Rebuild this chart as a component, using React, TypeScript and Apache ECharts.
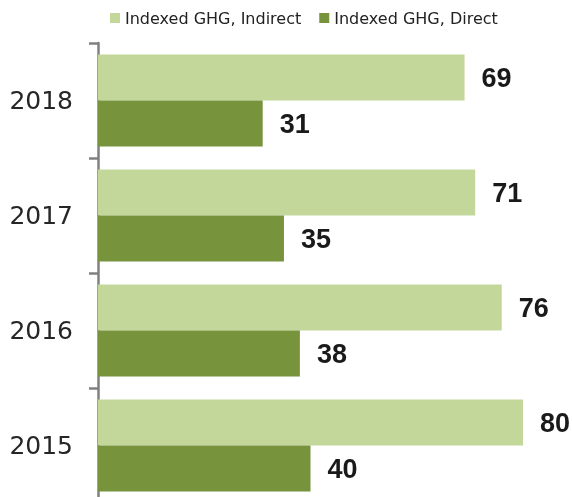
import React, { useEffect, useRef } from "react";
import * as echarts from "echarts";

const categories = ["2015", "2016", "2017", "2018"];
const indirectValues = [80, 76, 71, 69];
const directValues = [40, 38, 35, 31];
const seriesNames = ["Indexed GHG, Indirect", "Indexed GHG, Direct"];

export default function App() {
  const ref = useRef<HTMLDivElement>(null);
  useEffect(() => {
    if (!ref.current) return;
    const chart = echarts.init(ref.current, null, { renderer: "svg" });
    const label = {
      show: true,
      position: "right",
      distance: 17,
      color: "#1a1a1a",
      fontSize: 27,
      fontWeight: "bold",
      fontFamily: "Liberation Sans",
    };
    chart.setOption({
      animation: false,
      legend: {
        data: seriesNames,
        top: 5,
        left: 105,
        itemWidth: 10,
        itemHeight: 10,
        itemGap: 18,
        icon: "rect",
        textStyle: { fontSize: 16, color: "#222", fontFamily: "DejaVu Sans" },
      },
      grid: { left: 98, top: 43, width: 425, height: 460, containLabel: false },
      xAxis: {
        type: "value",
        min: 0,
        max: 80,
        show: false,
      },
      yAxis: {
        type: "category",
        data: categories,
        axisLine: { show: true, lineStyle: { color: "#808080", width: 2.5 } },
        axisTick: { show: true, length: 9, lineStyle: { color: "#808080", width: 2.5 } },
        axisLabel: { margin: 25, fontSize: 25, color: "#262626", fontFamily: "DejaVu Sans" },
        splitLine: { show: false },
      },
      series: [
        {
          name: seriesNames[0],
          type: "bar",
          data: indirectValues,
          barWidth: 46,
          barGap: "0%",
          itemStyle: { color: "#c4d79b" },
          label,
        },
        {
          name: seriesNames[1],
          type: "bar",
          data: directValues,
          barWidth: 46,
          barGap: "0%",
          itemStyle: { color: "#77933c" },
          label,
        },
      ],
    });
    return () => chart.dispose();
  }, []);
  return (
    <div style={{ position: "fixed", left: 0, top: 0, width: 572, height: 497, overflow: "hidden" }}>
      <div ref={ref} style={{ width: 572, height: 510 }} />
    </div>
  );
}
